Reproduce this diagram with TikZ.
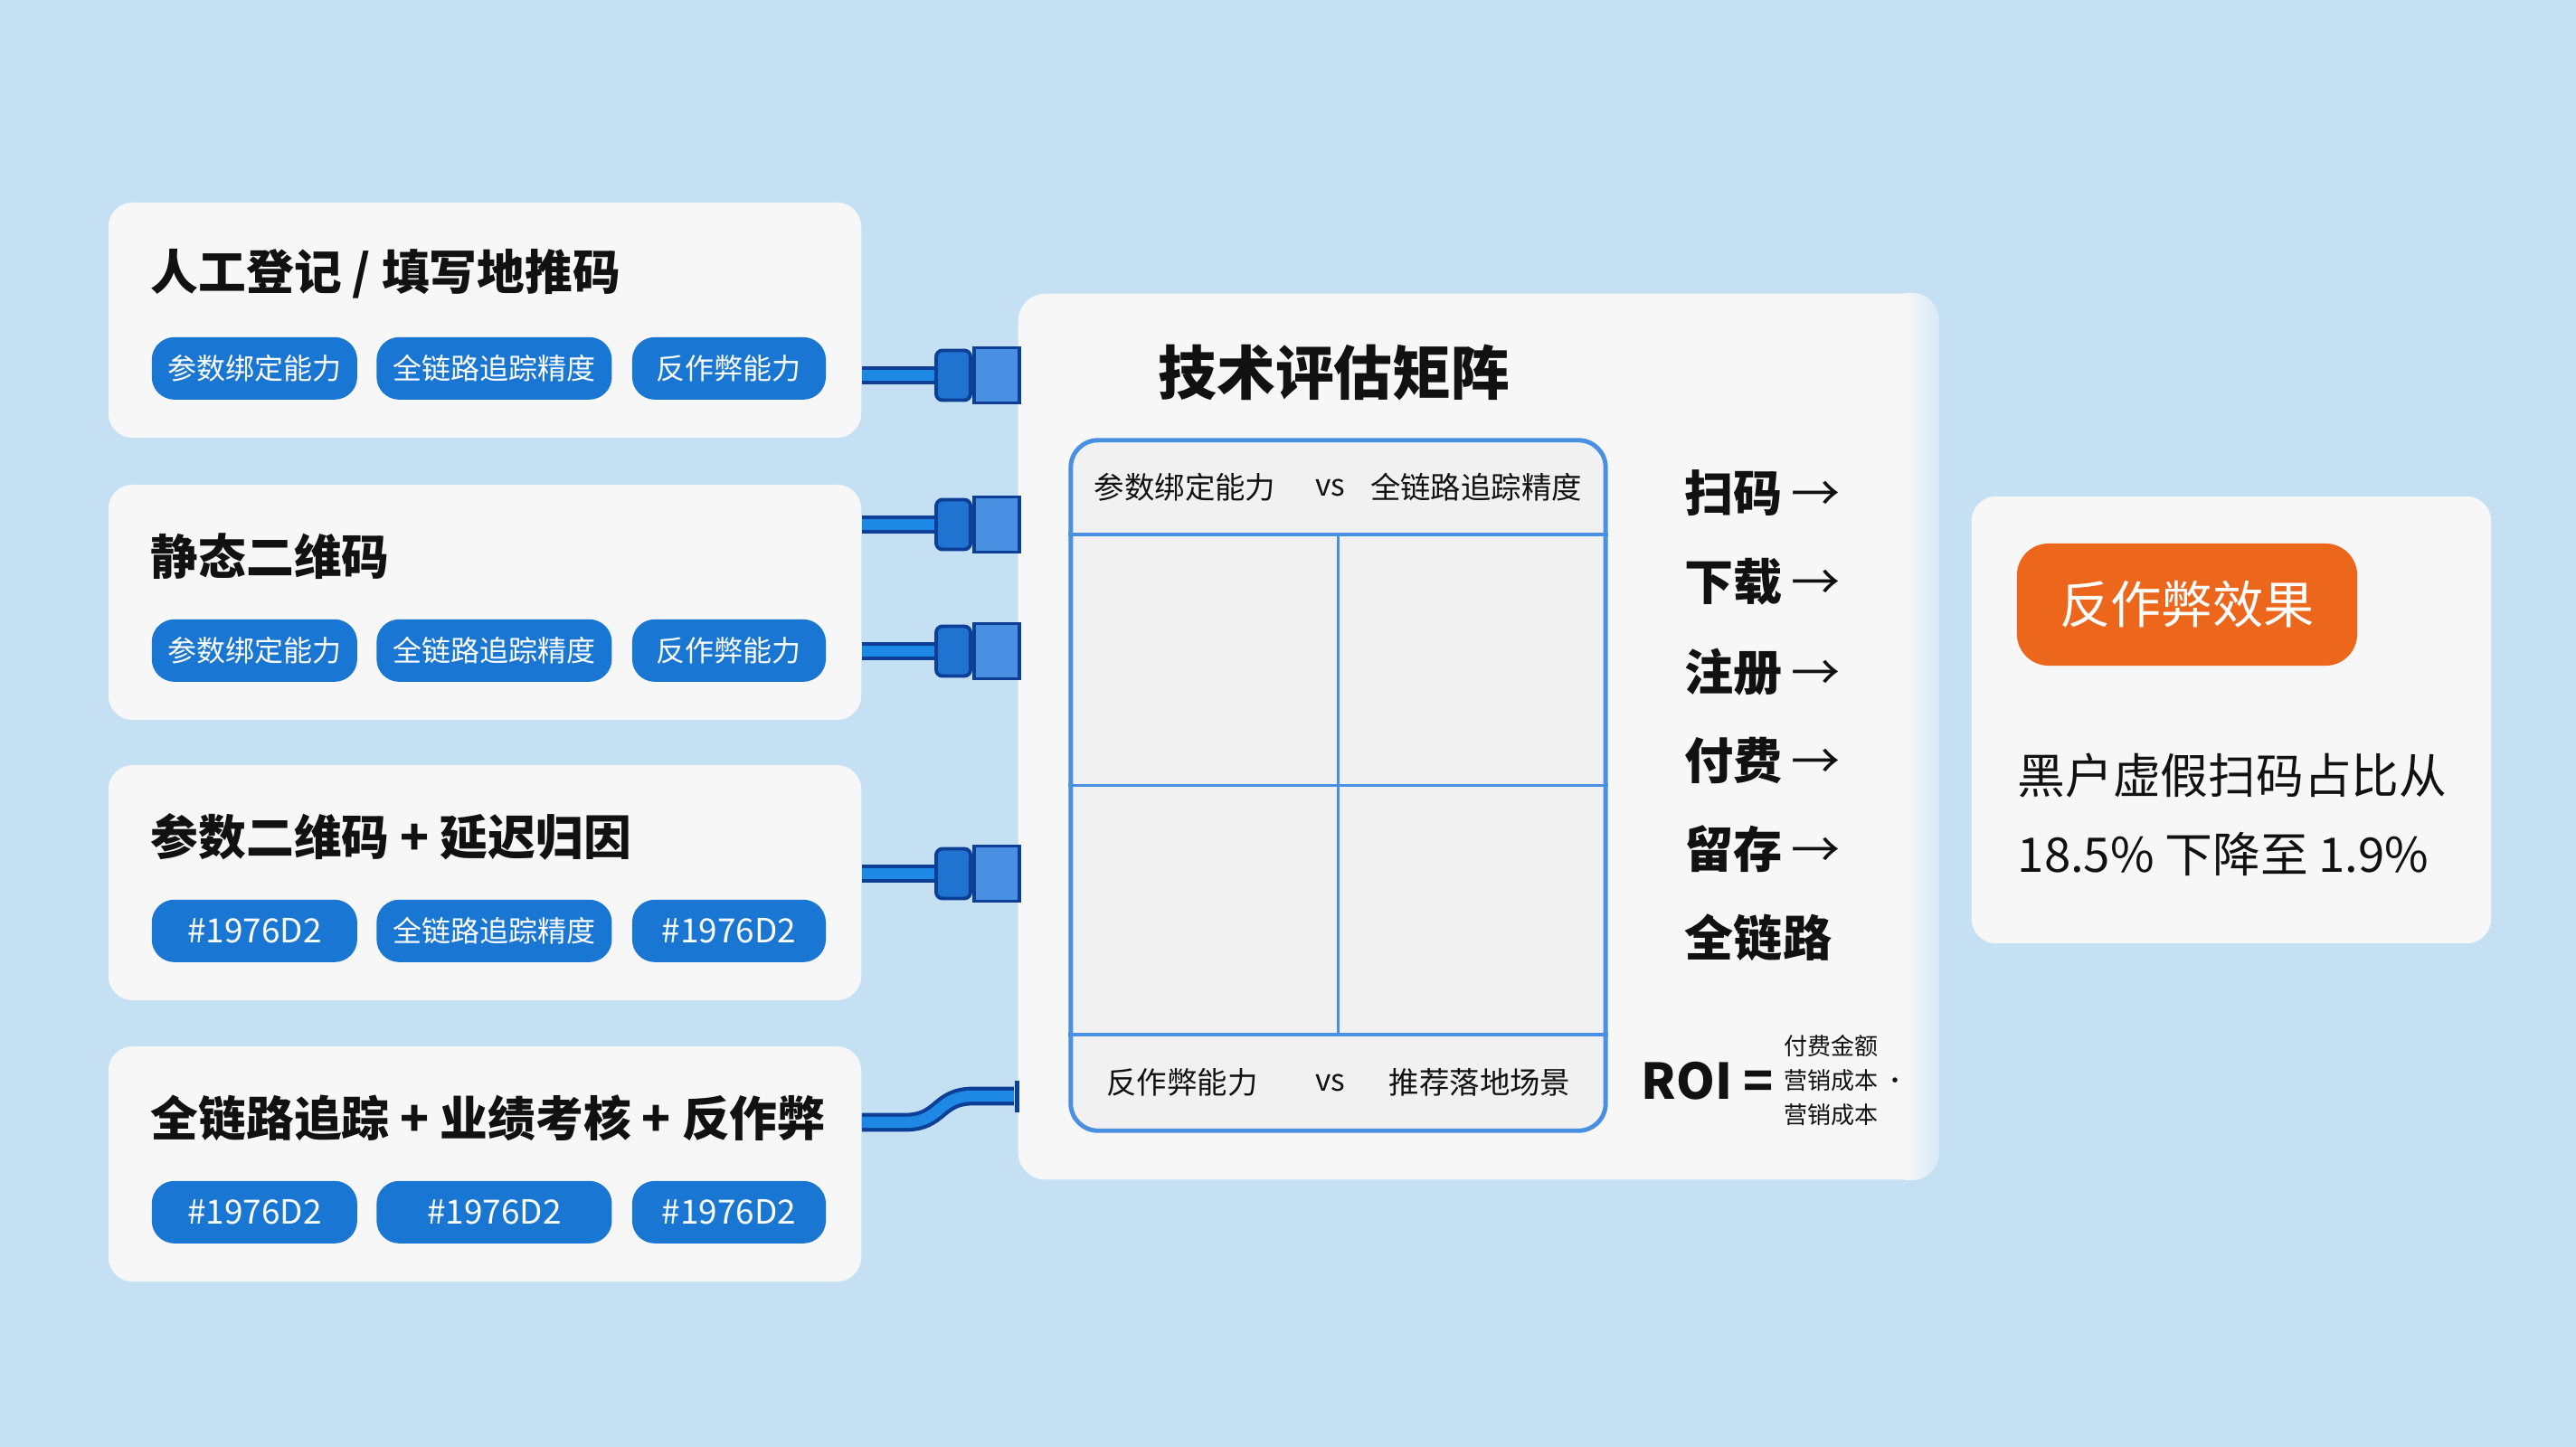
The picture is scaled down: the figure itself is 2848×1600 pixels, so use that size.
\documentclass[tikz,border=0pt]{standalone}
\usepackage{fontspec}
\setmainfont{Noto Sans CJK SC}
\usetikzlibrary{positioning}

\definecolor{bgblue}{HTML}{C5E0F3}
\definecolor{cardfill}{HTML}{F7F7F7}
\definecolor{cellgray}{HTML}{F1F1F1}
\definecolor{pillblue}{HTML}{1976D2}
\definecolor{plugdark}{HTML}{0D3F96}
\definecolor{plugbodyc}{HTML}{1E74D0}
\definecolor{plugheadc}{HTML}{4A90E2}
\definecolor{cableblue}{HTML}{1E88E5}
\definecolor{gridblue}{HTML}{4A90E2}
\definecolor{fxorange}{HTML}{EC661C}
\definecolor{inkblack}{HTML}{111111}

\tikzset{
  card/.style={rounded corners=0.27cm, fill=cardfill, minimum width=8.32cm, minimum height=2.6cm, inner sep=0},
  cardtitle/.style={anchor=west, inner sep=0, text=inkblack, font=\fontsize{15}{18}\selectfont\bfseries},
  pill/.style={rounded corners=0.25cm, fill=pillblue, text=white, minimum height=0.69cm, inner sep=0, font=\fontsize{9.1}{11}\selectfont},
  hexpill/.style={pill, font=\fontsize{10.5}{12}\selectfont},
  plugbody/.style={draw=plugdark, fill=plugbodyc, line width=1.1pt, rounded corners=2pt, minimum width=0.38cm, minimum height=0.55cm, inner sep=0},
  plughead/.style={draw=plugdark, fill=plugheadc, line width=1.1pt, minimum width=0.5cm, minimum height=0.61cm, inner sep=0},
  cable/.style={draw=plugdark, double=cableblue, double distance=3.5pt, line width=1.2pt},
  gridline/.style={draw=gridblue, line width=1.1pt},
  celltext/.style={inner sep=0, text=inkblack, font=\fontsize{9.5}{11}\selectfont},
  steptext/.style={anchor=west, inner sep=0, text=inkblack, font=\fontsize{15.4}{18}\selectfont\bfseries},
  fxtext/.style={anchor=west, inner sep=0, text=inkblack, font=\fontsize{15}{18}\selectfont}
}
\newcommand{\steparrow}{\,{\mdseries →}}

\begin{document}
\begin{tikzpicture}[x=0.01cm, y=-0.01cm]
  % background
  \fill[bgblue] (0,0) rectangle (2848,1600);
  \useasboundingbox (0,0) rectangle (2848,1600);

  % left cards
  \node[card] (c1) at (536,354) {};
  \node[card] (c2) at (536,666) {};
  \node[card] (c3) at (536,976) {};
  \node[card] (c4) at (536,1287) {};

  \node[cardtitle] (t1) at ([xshift=0.47cm, yshift=-0.8cm]c1.north west) {人工登记 / 填写地推码};
  \node[pill, anchor=west, minimum width=2.27cm] (c1a) at ([xshift=0.48cm, yshift=-1.84cm]c1.north west) {参数绑定能力};
  \node[pill, right=0.2cm of c1a, minimum width=2.6cm] (c1b) {全链路追踪精度};
  \node[pill, right=0.21cm of c1b, minimum width=2.14cm] (c1c) {反作弊能力};

  \node[cardtitle] (t2) at ([xshift=0.47cm, yshift=-0.8cm]c2.north west) {静态二维码};
  \node[pill, anchor=west, minimum width=2.27cm] (c2a) at ([xshift=0.48cm, yshift=-1.84cm]c2.north west) {参数绑定能力};
  \node[pill, right=0.2cm of c2a, minimum width=2.6cm] (c2b) {全链路追踪精度};
  \node[pill, right=0.21cm of c2b, minimum width=2.14cm] (c2c) {反作弊能力};

  \node[cardtitle] (t3) at ([xshift=0.47cm, yshift=-0.8cm]c3.north west) {参数二维码 + 延迟归因};
  \node[hexpill, anchor=west, minimum width=2.27cm] (c3a) at ([xshift=0.48cm, yshift=-1.84cm]c3.north west) {\#1976D2};
  \node[pill, right=0.2cm of c3a, minimum width=2.6cm] (c3b) {全链路追踪精度};
  \node[hexpill, right=0.21cm of c3b, minimum width=2.14cm] (c3c) {\#1976D2};

  \node[cardtitle] (t4) at ([xshift=0.47cm, yshift=-0.8cm]c4.north west) {全链路追踪 + 业绩考核 + 反作弊};
  \node[hexpill, anchor=west, minimum width=2.27cm] (c4a) at ([xshift=0.48cm, yshift=-1.84cm]c4.north west) {\#1976D2};
  \node[hexpill, right=0.2cm of c4a, minimum width=2.6cm] (c4b) {\#1976D2};
  \node[hexpill, right=0.21cm of c4b, minimum width=2.14cm] (c4c) {\#1976D2};

  % evaluation panel
  \node[rounded corners=0.3cm, fill=cardfill, minimum width=10.17cm, minimum height=9.79cm, inner sep=0] (panel) at (1634.5,814.5) {};
  \begin{scope}
    \clip[rounded corners=0.3cm] (panel.south west) rectangle (panel.north east);
    \shade[left color=cardfill, right color=bgblue!70!white] ([xshift=-0.38cm]panel.north east) rectangle (panel.south east);
  \end{scope}
  \node[anchor=west, inner sep=0, text=inkblack, font=\fontsize{18.4}{22}\selectfont\bfseries] (ptitle) at (1280,412) {技术评估矩阵};

  \node[draw=gridblue, line width=1.4pt, fill=cellgray, rounded corners=0.3cm, minimum width=5.91cm, minimum height=7.63cm, inner sep=0] (mx) at (1479.5,868.5) {};
  \draw[gridline] ([yshift=-1.07cm]mx.north west) -- ([yshift=-1.07cm]mx.north east);
  \draw[gridline] ([yshift=1.09cm]mx.south west) -- ([yshift=1.09cm]mx.south east);
  \draw[gridline] (mx.west) -- (mx.east);
  \draw[gridline] ([yshift=-1.07cm]mx.north) -- ([yshift=1.09cm]mx.south);

  \node[celltext] (hl) at (1310,539) {参数绑定能力};
  \node[celltext] (hv) at (1471,539) {vs};
  \node[celltext] (hr) at (1632,539) {全链路追踪精度};
  \node[celltext] (fl) at (1307,1197) {反作弊能力};
  \node[celltext] (fv) at (1471,1197) {vs};
  \node[celltext] (fr) at (1636,1197) {推荐落地场景};

  % funnel steps
  \node[steptext] (s1) at (1862,545) {扫码\steparrow};
  \node[steptext] (s2) at (1862,643) {下载\steparrow};
  \node[steptext] (s3) at (1862,743) {注册\steparrow};
  \node[steptext] (s4) at (1862,841) {付费\steparrow};
  \node[steptext] (s5) at (1862,939) {留存\steparrow};
  \node[steptext] (s6) at (1862,1037) {全链路};

  % ROI
  \node[anchor=west, inner sep=0, text=inkblack, font=\fontsize{15.5}{18}\selectfont\bfseries] (roi) at (1814,1195) {ROI =};
  \node[anchor=west, inner sep=0, text=inkblack, font=\fontsize{7.4}{9}\selectfont] (roi1) at (1972,1157) {付费金额};
  \node[anchor=west, inner sep=0, text=inkblack, font=\fontsize{7.4}{9}\selectfont] (roi2) at (1972,1195) {营销成本 ·};
  \node[anchor=west, inner sep=0, text=inkblack, font=\fontsize{7.4}{9}\selectfont] (roi3) at (1972,1233) {营销成本};

  % plugs into the panel
  \node[plugbody] (b1) at (1054,415) {};
  \node[plughead, right=0pt of b1] (h1) {};
  \node[plugbody] (b2) at (1054,580) {};
  \node[plughead, right=0pt of b2] (h2) {};
  \node[plugbody] (b3) at (1054,720) {};
  \node[plughead, right=0pt of b3] (h3) {};
  \node[plugbody] (b4) at (1054,966) {};
  \node[plughead, right=0pt of b4] (h4) {};

  \draw[cable] (c1.east |- b1) -- (b1.west);
  \draw[cable] (c2.east |- b2) -- (b2.west);
  \draw[cable] (c2.east |- b3) -- (b3.west);
  \draw[cable] (c3.east |- b4) -- (b4.west);

  \coordinate (k5) at ([yshift=0.46cm]c4.east);
  \node[fill=plugdark, minimum width=0.05cm, minimum height=0.35cm, inner sep=0] (cap5) at (1124,1212) {};
  \draw[cable] (k5) -- ++(48,0) .. controls +(40,0) and +(-40,0) .. ++(75,-29) -- (cap5.west);

  % result card
  \node[card, minimum width=5.74cm, minimum height=4.94cm] (fx) at (2467,796) {};
  \node[rounded corners=0.35cm, fill=fxorange, text=white, minimum width=3.76cm, minimum height=1.35cm, inner sep=0, font=\fontsize{16}{19}\selectfont] (fxtag) at (2418,668.5) {反作弊效果};
  \node[fxtext] (fx1) at (2230,857) {黑户虚假扫码占比从};
  \node[fxtext] (fx2) at (2230,944) {18.5\% 下降至 1.9\%};
\end{tikzpicture}
\end{document}
